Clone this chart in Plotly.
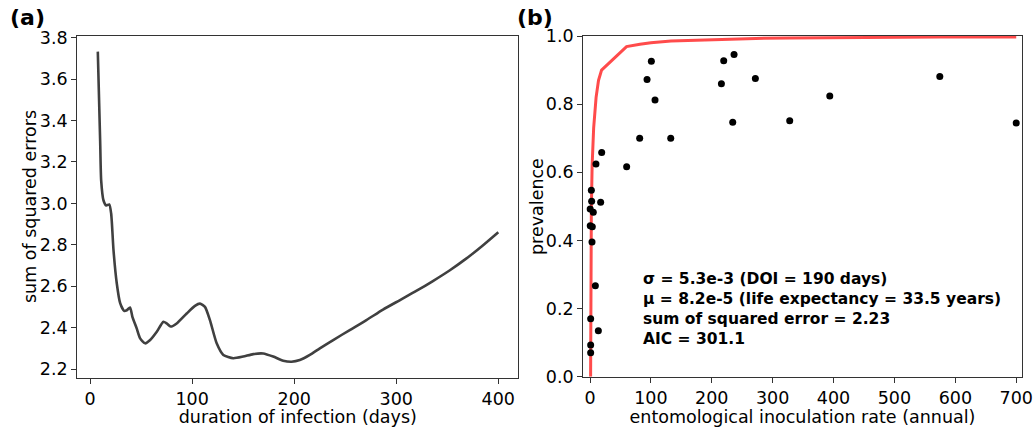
import plotly.graph_objects as go

# Panel (a): sum of squared errors vs duration of infection
doi_days = [7.5, 9.8, 10.8, 13.1, 15.8, 18.7, 20.6, 22.9, 26.1, 29.4, 33.3, 35.9, 39.1, 41.4,
            45.6, 49.0, 53.9, 58.8, 65.3, 71.8, 75.0, 78.9, 84.8, 94.6, 102.7, 107.6, 112.5,
            117.4, 124.0, 130.5, 140.3, 150.0, 159.8, 169.6, 179.4, 189.2, 197.4, 205.5,
            215.3, 225.1, 238.2, 254.4, 270.7, 287.0, 303.3, 319.6, 335.9, 352.2, 368.5,
            384.8, 400.0]
sse = [3.733, 3.30, 3.11, 3.014, 2.99, 2.995, 2.95, 2.773, 2.613, 2.518, 2.481, 2.484, 2.497,
       2.452, 2.396, 2.348, 2.324, 2.34, 2.38, 2.428, 2.42, 2.405, 2.42, 2.468, 2.505, 2.516,
       2.50, 2.436, 2.324, 2.268, 2.252, 2.26, 2.272, 2.275, 2.26, 2.24, 2.235, 2.243, 2.268,
       2.30, 2.34, 2.388, 2.436, 2.487, 2.532, 2.577, 2.625, 2.676, 2.733, 2.797, 2.861]

# Panel (b): prevalence vs EIR
eir = [236.6, 219.6, 100.8, 93.7, 271.6, 215.8, 574.5, 106.8, 393.8, 234.4, 328.0, 700.0,
       81.6, 132.6, 19.2, 9.8, 60.2, 2.2, 2.7, 17.5, 0.3, 5.4, 0.4, 3.8, 3.3, 8.8, 1.1, 13.7,
       1.1, 1.1]
prevalence = [0.946, 0.927, 0.926, 0.872, 0.875, 0.86, 0.881, 0.812, 0.824, 0.747, 0.751,
              0.745, 0.70, 0.70, 0.658, 0.624, 0.616, 0.547, 0.515, 0.512, 0.492, 0.483,
              0.443, 0.44, 0.395, 0.267, 0.17, 0.135, 0.093, 0.07]

fit_eir = [1.0, 1.3, 2.2, 3.5, 6.0, 10.0, 14.0, 19.0, 60.0, 82.0, 100.0, 133.0, 216.0,
           235.0, 272.0, 328.0, 394.0, 574.0, 700.0]
fit_prev = [0.0, 0.2, 0.49, 0.62, 0.73, 0.82, 0.87, 0.90, 0.969, 0.976, 0.98, 0.985, 0.99,
            0.991, 0.993, 0.994, 0.995, 0.997, 0.997]

annotation_lines = ["σ = 5.3e-3 (DOI = 190 days)",
                    "μ = 8.2e-5 (life expectancy = 33.5 years)",
                    "sum of squared error = 2.23",
                    "AIC = 301.1"]

FONT = "DejaVu Sans"
W, H = 1033, 427
fig = go.Figure()

fig.add_trace(go.Scatter(x=doi_days, y=sse, mode="lines",
                         line=dict(color="#404040", width=2.6, shape="spline", smoothing=0.6),
                         xaxis="x", yaxis="y", showlegend=False, hoverinfo="skip"))
fig.add_trace(go.Scatter(x=fit_eir, y=fit_prev, mode="lines", line=dict(color="rgba(255,30,30,0.8)", width=3),
                         xaxis="x2", yaxis="y2", showlegend=False, hoverinfo="skip"))
fig.add_trace(go.Scatter(x=eir, y=prevalence, mode="markers", marker=dict(color="black", size=7),
                         xaxis="x2", yaxis="y2", showlegend=False, hoverinfo="skip"))

axis_common = dict(showline=True, mirror=True, linecolor="#333333", linewidth=1.2, ticks="outside",
                   ticklen=5, tickcolor="#333333", showgrid=False, zeroline=False, automargin=False,
                   tickfont=dict(family=FONT, size=17.5, color="black"))
title_font = dict(family=FONT, size=17.5, color="black")

fig.update_layout(
    width=W, height=H, margin=dict(l=0, r=0, t=0, b=0, autoexpand=False),
    paper_bgcolor="white", plot_bgcolor="white",
    font=dict(family=FONT, color="black"),
    xaxis=dict(domain=[77.3 / W, 518.3 / W], range=[-12.6, 419.6], tickvals=[0, 100, 200, 300, 400],
               title=dict(text="duration of infection (days)", font=title_font, standoff=2),
               anchor="y", **axis_common),
    yaxis=dict(domain=[1 - 377.7 / H, 1 - 35.7 / H], range=[2.158, 3.81],
               tickvals=[2.2, 2.4, 2.6, 2.8, 3.0, 3.2, 3.4, 3.6, 3.8], tickformat=".1f",
               anchor="x", **axis_common),
    xaxis2=dict(domain=[583.3 / W, 1021.7 / W], range=[-11, 709],
                tickvals=[0, 100, 200, 300, 400, 500, 600, 700],
                title=dict(text="entomological inoculation rate (annual)", font=title_font, standoff=2),
                anchor="y2", **axis_common),
    yaxis2=dict(domain=[1 - 376.7 / H, 1 - 36.0 / H], range=[0, 1.0], tickvals=[0, 0.2, 0.4, 0.6, 0.8, 1.0],
                tickformat=".1f",
                anchor="x2", **axis_common),
)

# y-axis titles placed as rotated text
fig.add_annotation(text="sum of squared errors", x=30 / W, y=1 - 207 / H, xref="paper", yref="paper",
                   showarrow=False, textangle=-90, font=title_font, xanchor="center", yanchor="middle")
fig.add_annotation(text="prevalence", x=537 / W, y=1 - 207 / H, xref="paper", yref="paper",
                   showarrow=False, textangle=-90, font=title_font, xanchor="center", yanchor="middle")

fig.add_annotation(text="<b>(a)</b>", x=8 / W, y=1 - 17 / H, xref="paper", yref="paper", showarrow=False,
                   font=dict(family=FONT, size=22, color="black"), xanchor="left", yanchor="middle")
fig.add_annotation(text="<b>(b)</b>", x=515 / W, y=1 - 17 / H, xref="paper", yref="paper", showarrow=False,
                   font=dict(family=FONT, size=22, color="black"), xanchor="left", yanchor="middle")

fig.add_annotation(text="<br>".join("<b>%s</b>" % s for s in annotation_lines),
                   x=641 / W, y=1 - 268 / H, xref="paper", yref="paper", showarrow=False,
                   align="left", xanchor="left", yanchor="top",
                   font=dict(family=FONT, size=15.5, color="black"))

fig.write_html("out.html")
